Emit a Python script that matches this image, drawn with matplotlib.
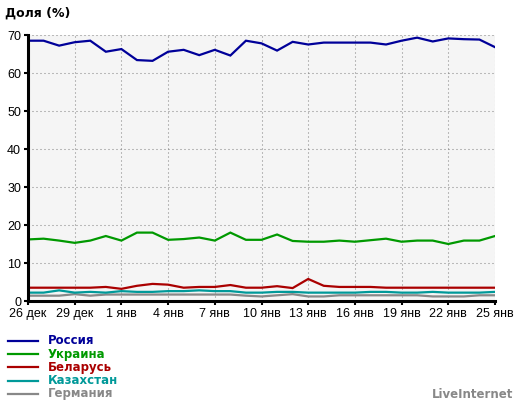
import matplotlib
matplotlib.use('Agg')
from matplotlib import pyplot as plt
from matplotlib.lines import Line2D
import numpy as np

# daily share (%) 26 Dec .. 25 Jan
days = list(range(31))
tick_days = list(range(0, 31, 3))
tick_labels = ['26 дек', '29 дек', '1 янв', '4 янв', '7 янв', '10 янв',
               '13 янв', '16 янв', '19 янв', '22 янв', '25 янв']

russia = [68.5, 68.5, 67.2, 68.1, 68.5, 65.6, 66.3, 63.4, 63.2, 65.6, 66.1,
          64.7, 66.1, 64.6, 68.5, 67.8, 65.9, 68.2, 67.5, 68.0, 68.0, 68.0,
          68.0, 67.5, 68.5, 69.3, 68.3, 69.1, 68.9, 68.8, 66.8]
ukraine = [16.2, 16.4, 15.9, 15.3, 15.9, 17.1, 15.9, 18.0, 18.0, 16.1, 16.3,
           16.7, 15.9, 18.0, 16.1, 16.1, 17.5, 15.8, 15.6, 15.6, 15.9, 15.6,
           16.0, 16.4, 15.6, 15.9, 15.9, 15.0, 15.9, 15.9, 17.1]
belarus = [3.5, 3.5, 3.5, 3.5, 3.5, 3.7, 3.2, 4.0, 4.5, 4.3, 3.5,
           3.7, 3.7, 4.2, 3.5, 3.5, 3.9, 3.4, 5.8, 4.0, 3.7, 3.7,
           3.7, 3.5, 3.5, 3.5, 3.5, 3.5, 3.5, 3.5, 3.5]
kazakhstan = [2.2, 2.2, 2.8, 2.2, 2.4, 2.2, 2.6, 2.4, 2.4, 2.6, 2.6,
              2.8, 2.6, 2.6, 2.2, 2.2, 2.4, 2.4, 2.2, 2.2, 2.2, 2.2,
              2.4, 2.4, 2.2, 2.2, 2.4, 2.2, 2.2, 2.2, 2.4]
germany = [1.4, 1.4, 1.4, 1.8, 1.4, 1.7, 1.7, 1.7, 1.7, 1.7, 1.7,
           1.7, 1.7, 1.7, 1.4, 1.2, 1.5, 1.8, 1.2, 1.2, 1.5, 1.5,
           1.5, 1.5, 1.5, 1.5, 1.2, 1.2, 1.2, 1.5, 1.5]

names = ['Россия', 'Украина', 'Беларусь', 'Казахстан', 'Германия']
colors = ['#000099', '#009900', '#aa0000', '#009999', '#888888']
series = [russia, ukraine, belarus, kazakhstan, germany]

plt.rcParams['font.family'] = ['Liberation Sans', 'DejaVu Sans']
plt.rcParams['lines.scale_dashes'] = False

fig = plt.figure(figsize=(5.2, 4.05), dpi=100)
ax = fig.add_axes([28/520, 1 - 301/405, 467/520, 266/405])
ax.set_facecolor('#f5f5f5')

# draw back to front so Russia sits on top
for vals, c in reversed(list(zip(series, colors))):
    ax.plot(days, vals, color=c, lw=1.6, solid_joinstyle='miter')

ax.set_xlim(0, 30)
ax.set_ylim(0, 70)
ax.set_xticks(tick_days)
ax.set_xticklabels(tick_labels)
ax.set_yticks(np.arange(0, 71, 10))
ax.tick_params(axis='both', labelsize=9, colors='black', length=3, width=1.5,
               pad=2)
# 1px dots every 4px
ax.grid(True, color='#808080', lw=0.75, linestyle=(0, (0.72, 2.16)))
ax.set_axisbelow(True)
for s in ['top', 'right']:
    ax.spines[s].set_visible(False)
for s in ['left', 'bottom']:
    ax.spines[s].set_linewidth(2.2)
    ax.spines[s].set_color('black')

fig.text(5/520, 1 - 13/405, 'Доля (%)', fontsize=9, fontweight='bold',
         va='center', ha='left', family='DejaVu Sans')

# legend
for i, (name, c) in enumerate(zip(names, colors)):
    y = 1 - (341 + 13.2 * i) / 405
    fig.add_artist(Line2D([8/520, 38/520], [y, y], color=c, lw=1.6,
                          transform=fig.transFigure))
    fig.text(48/520, y, name, color=c, fontsize=8.5, fontweight='bold',
             va='center', ha='left', family='DejaVu Sans')

fig.text(513/520, 1 - 395/405, 'LiveInternet', color='#888888', fontsize=8.5,
         fontweight='bold', va='center', ha='right', family='DejaVu Sans')

fig.savefig('out.png', dpi=100)
